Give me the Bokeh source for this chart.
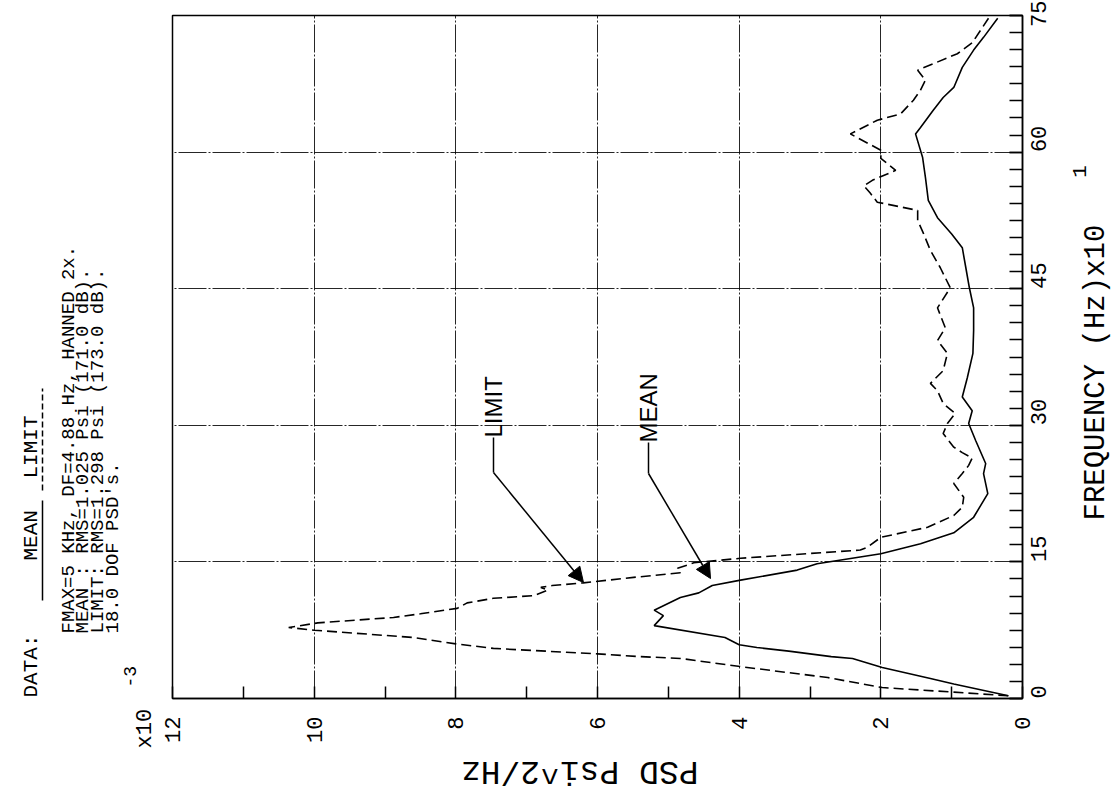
import math
from bokeh.plotting import figure
from bokeh.layouts import row, column
from bokeh.models import Range1d, FixedTicker, Label, Arrow, NormalHead
from bokeh.core.properties import value
from bokeh.embed import file_html
from bokeh.resources import INLINE

# ---------------- data (PSD in 1e-3 psi^2/Hz, frequency in 10 Hz) ----------------
mean_freq = [0.3, 1.6, 2.2, 3.4, 4.4, 4.6, 5.2, 5.6, 5.9, 6.7, 8.0, 9.1, 9.7, 11.1, 11.6, 12.4,
             13.0, 14.1, 14.8, 15.9, 17.0, 18.2, 19.9, 22.5, 24.7, 25.8, 28.3, 30.2, 31.6, 33.1,
             35.2, 37.9, 40.4, 42.9, 45.1, 47.3, 49.5, 51.0, 52.8, 54.7, 57.2, 59.4, 62.0, 62.7,
             64.6, 66.0, 67.1, 69.3, 71.2, 72.6, 74.7]
mean_psd = [0.2, 0.97, 1.3, 1.98, 2.4, 2.7, 3.3, 3.75, 4.0, 4.2, 5.2, 5.07, 5.2, 4.83, 4.57, 4.38,
            3.98, 3.18, 2.9, 2.0, 1.44, 0.97, 0.69, 0.49, 0.55, 0.52, 0.66, 0.76, 0.71, 0.85,
            0.78, 0.70, 0.69, 0.69, 0.75, 0.80, 0.85, 1.0, 1.2, 1.33, 1.37, 1.41, 1.51, 1.44,
            1.26, 1.12, 0.97, 0.85, 0.69, 0.55, 0.35]

limit_freq = [0.3, 0.7, 1.2, 2.3, 3.5, 4.4, 4.6, 4.9, 5.5, 6.0, 6.7, 7.5, 7.8, 8.3, 8.9, 9.3, 9.9,
              10.5, 11.0, 11.3, 11.9, 12.2, 12.4, 12.7, 13.3, 13.8, 14.3, 14.9, 15.4, 15.7, 16.3,
              16.6, 17.7, 18.8, 20.1, 21.0, 22.1, 23.6, 24.7, 25.6, 26.4, 27.0, 27.6, 29.1, 30.2,
              31.3, 32.4, 33.8, 34.6, 36.0, 37.9, 39.3, 40.7, 42.9, 45.1, 47.3, 49.2, 51.1, 52.5,
              53.6, 54.5, 55.5, 56.3, 56.9, 58.0, 59.3, 60.2, 62.0, 63.5, 64.2, 65.7, 66.8, 67.9,
              69.0, 69.7, 70.8, 72.0, 73.4, 74.7]
limit_psd = [0.2, 0.97, 1.98, 2.75, 3.98, 4.83, 5.4, 6.0, 7.47, 8.0, 8.6, 10.0, 10.36, 9.95, 8.88,
             8.5, 7.98, 7.84, 7.47, 6.9, 6.7, 6.8, 6.64, 6.2, 5.49, 4.83, 4.87, 4.64, 3.98, 3.42,
             2.29, 2.19, 2.0, 1.34, 0.97, 0.85, 0.83, 0.97, 0.85, 0.76, 0.71, 0.85, 0.97, 1.12,
             1.06, 0.95, 1.12, 1.2, 1.3, 1.12, 1.06, 1.2, 1.09, 1.2, 1.02, 1.16, 1.3, 1.4, 1.48,
             1.48, 2.05, 2.15, 2.24, 2.12, 1.79, 2.0, 2.0, 2.43, 2.05, 1.72, 1.54, 1.44, 1.37,
             1.48, 1.26, 0.92, 0.71, 0.59, 0.48]

psd_ticks = [0, 2, 4, 6, 8, 10, 12]
psd_minor_ticks = [1, 3, 5, 7, 9, 11]
freq_ticks = [0, 15, 30, 45, 60, 75]
freq_minor_step = 1.875

header_lines = ["FMAX=5 KHz, DF=4.88 Hz, HANNED 2x.",
                "MEAN : RMS=1.025 Psi (171.0 dB).",
                "LIMIT: RMS=1.298 Psi (173.0 dB).",
                "18.0 DOF PSD's."]

# ---------------- layout constants (page pixels) ----------------
W, H = 1112, 800
LEFT_W = 158                      # width of the left text strip
FL, FR, FT, FB = 172, 1022, 15, 698   # frame edges on the page
MAIN_R = 42                       # right border of the main plot
MAIN_BOTTOM = 55                  # bottom border of the main plot
MAIN_W = (FL - LEFT_W) + (FR - FL) + MAIN_R
MAIN_H = FT + (FB - FT) + MAIN_BOTTOM
RIGHT_W = W - LEFT_W - MAIN_W
BOT_H = H - MAIN_H
PLOT_FONT = "Liberation Mono"


def px(X):   # page x -> PSD data value
    return 12 - (X - FL) * 12.0 / (FR - FL)


def py(Y):   # page y -> frequency data value
    return 75 - (Y - FT) * 75.0 / (FB - FT)


# ---------------- main plot ----------------
p = figure(frame_width=FR - FL, frame_height=FB - FT,
           min_border_left=FL - LEFT_W, min_border_right=MAIN_R,
           min_border_top=FT, min_border_bottom=MAIN_BOTTOM,
           x_range=Range1d(12, 0), y_range=Range1d(0, 75),
           y_axis_location="right",
           output_backend="svg", toolbar_location=None,
           background_fill_color="white", border_fill_color="white")

p.outline_line_color = "black"
p.outline_line_width = 1.5

xa = p.xaxis[0]
xa.ticker = FixedTicker(ticks=psd_ticks, minor_ticks=psd_minor_ticks)
xa.major_label_orientation = math.pi / 2
xa.major_label_text_font = PLOT_FONT
xa.major_label_text_font_size = "22px"
xa.major_label_text_color = "black"
xa.major_label_standoff = 18
xa.major_tick_in = 12
xa.major_tick_out = 0
xa.minor_tick_in = 12
xa.minor_tick_out = 0
xa.axis_line_width = 1.5
xa.major_tick_line_width = 1.5
xa.minor_tick_line_width = 1.5

ya = p.yaxis[0]
ya.ticker = FixedTicker(ticks=freq_ticks,
                        minor_ticks=[i * freq_minor_step for i in range(int(75 / freq_minor_step) + 1)])
ya.major_label_orientation = math.pi / 2
ya.major_label_text_font = PLOT_FONT
ya.major_label_text_font_size = "22px"
ya.major_label_text_color = "black"
ya.major_label_standoff = 16
ya.major_tick_in = 13
ya.major_tick_out = 0
ya.minor_tick_in = 13
ya.minor_tick_out = 0
ya.axis_line_width = 1.5
ya.major_tick_line_width = 1.5
ya.minor_tick_line_width = 1.5

p.xgrid.ticker = FixedTicker(ticks=psd_ticks)
p.ygrid.ticker = FixedTicker(ticks=freq_ticks)
for g in (p.xgrid[0], p.ygrid[0]):
    g.grid_line_color = "black"
    g.grid_line_width = 1
    g.grid_line_dash = "28 2 2 2"
    g.grid_line_alpha = 0.85

p.line(mean_psd, mean_freq, line_color="black", line_width=1.6)
p.line(limit_psd, limit_freq, line_color="black", line_width=1.6, line_dash="10 5")

# callouts (inside the frame)
for name, tx, ty0, ty1, ex, ey in [("LIMIT", 493, 437, 472, 583, 582),
                                   ("MEAN", 648, 442, 473, 710, 578)]:
    p.add_layout(Label(x=px(tx), y=py(ty0), text=name, angle=math.pi / 2,
                       text_align="left", text_baseline="middle",
                       text_font="Liberation Sans", text_font_size="24px", text_color="black"))
    p.add_layout(Arrow(x_start=px(tx), y_start=py(ty0), x_end=px(tx), y_end=py(ty1),
                       end=None, line_color="black", line_width=1.5))
    p.add_layout(Arrow(x_start=px(tx), y_start=py(ty1), x_end=px(ex), y_end=py(ey),
                       end=NormalHead(size=15, fill_color="black", line_color="black"),
                       line_color="black", line_width=1.5))


# ---------------- text strips around the plot (coordinates = page pixels) ----------------
def strip(x0, y0, w, h):
    f = figure(width=w, height=h, x_range=Range1d(x0, x0 + w), y_range=Range1d(y0 + h, y0),
               min_border=0, x_axis_type=None, y_axis_type=None,
               output_backend="svg", toolbar_location=None,
               background_fill_color="white", border_fill_color="white")
    f.outline_line_color = None
    f.xgrid.visible = False
    f.ygrid.visible = False
    return f


def txt(f, X, Y, text, size="20px", align="left", angle=math.pi / 2, font=PLOT_FONT):
    f.text(x=[X], y=[Y], text=[text], angle=angle, text_align=align, text_baseline="middle",
           text_font=value(font), text_font_size=value(size), text_color="black")


left = strip(0, 0, LEFT_W, H)
txt(left, 31, 697, "DATA:", size="21px")
txt(left, 31, 560, "MEAN", size="21px")
txt(left, 31, 478, "LIMIT", size="21px")
left.line([42, 42], [600, 500], line_color="black", line_width=1.5)
left.line([42, 42], [490, 388], line_color="black", line_width=1.5, line_dash="6 3")
for i, t in enumerate(header_lines):
    txt(left, 68 + 14.7 * i, 633, t, size="19px")
txt(left, 145, 748, "x10", size="22px")
txt(left, 129, 687, "-3", size="18px")

right = strip(LEFT_W + MAIN_W, 0, RIGHT_W, H)
txt(right, 1096, 520, "FREQUENCY (Hz)x10", size="29px")
txt(right, 1079, 171, "1", size="21px", align="center")

bottom = strip(LEFT_W, MAIN_H, MAIN_W, BOT_H)
txt(bottom, 592, 770, "PSD Psi^2/Hz", size="33px", align="center", angle=math.pi)

layout = row(left, column(p, bottom), right)
open("out.html", "w").write(file_html(layout, INLINE))
